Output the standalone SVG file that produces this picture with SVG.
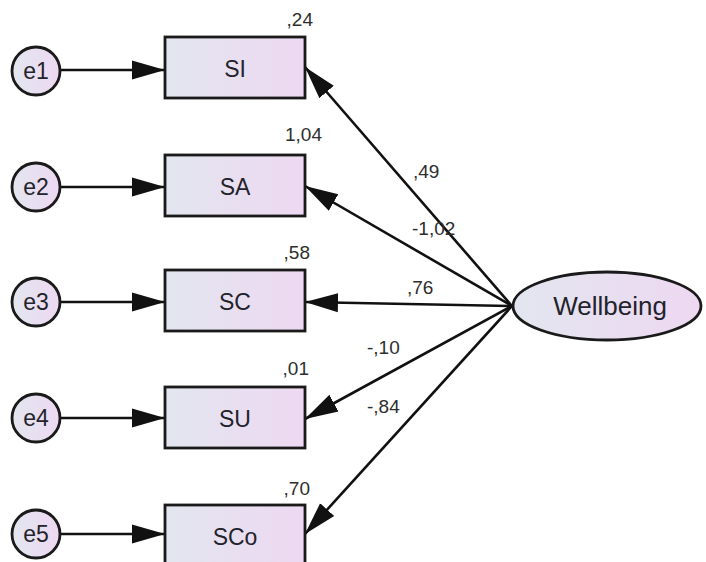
<svg xmlns="http://www.w3.org/2000/svg" width="706" height="562" viewBox="0 0 706 562">
<defs>
<linearGradient id="g" x1="0" y1="0" x2="1" y2="0">
<stop offset="0" stop-color="#e2e6ef"/>
<stop offset="1" stop-color="#eed8f2"/>
</linearGradient>
<marker id="ah" markerUnits="userSpaceOnUse" markerWidth="34" markerHeight="22" viewBox="0 0 34 22" refX="33" refY="11" orient="auto">
<path d="M0,1.5 L33,11 L0,20.5 z" fill="#111"/>
</marker>
<style>
.box{fill:url(#g);stroke:#1a1a1a;stroke-width:2.8}
.err{fill:url(#g);stroke:#1a1a1a;stroke-width:2.8}
.lbl{font-family:"Liberation Sans",Arial,sans-serif;fill:#23232b;text-anchor:middle}
.num{font-family:"Liberation Sans",Arial,sans-serif;fill:#2e2e2e;font-size:19px}
.c{stroke:#111;stroke-width:2.6;fill:none;marker-end:url(#ah)}
</style>
</defs>
<rect width="706" height="562" fill="#fff"/>
<g id="connectors">
<line class="c" x1="60" y1="70" x2="165" y2="70"/>
<line class="c" x1="60" y1="187" x2="165" y2="187"/>
<line class="c" x1="60" y1="302" x2="165" y2="302"/>
<line class="c" x1="60" y1="418" x2="165" y2="418"/>
<line class="c" x1="60" y1="534" x2="165" y2="534"/>
<line class="c" x1="512" y1="306" x2="305" y2="67"/>
<line class="c" x1="512" y1="306" x2="305" y2="186"/>
<line class="c" x1="512" y1="306" x2="305" y2="302"/>
<line class="c" x1="512" y1="306" x2="305" y2="419"/>
<line class="c" x1="512" y1="306" x2="305" y2="534"/>
</g>
<g id="e1"><circle class="err" cx="36" cy="71" r="24"/><text class="lbl" x="36" y="79" font-size="23">e1</text></g>
<g id="e2"><circle class="err" cx="36" cy="187" r="24"/><text class="lbl" x="36" y="195" font-size="23">e2</text></g>
<g id="e3"><circle class="err" cx="36" cy="302" r="24"/><text class="lbl" x="36" y="310" font-size="23">e3</text></g>
<g id="e4"><circle class="err" cx="36" cy="418" r="24"/><text class="lbl" x="36" y="426" font-size="23">e4</text></g>
<g id="e5"><circle class="err" cx="36" cy="534" r="24"/><text class="lbl" x="36" y="542" font-size="23">e5</text></g>
<g id="SI"><rect class="box" x="165" y="37" width="140" height="61"/><text class="lbl" x="235" y="77" font-size="23">SI</text><text class="num" x="313" y="26" text-anchor="end">,24</text></g>
<g id="SA"><rect class="box" x="165" y="155" width="140" height="61"/><text class="lbl" x="235" y="195" font-size="23">SA</text><text class="num" x="322" y="141" text-anchor="end">1,04</text></g>
<g id="SC"><rect class="box" x="165" y="270" width="140" height="61"/><text class="lbl" x="235" y="310" font-size="23">SC</text><text class="num" x="310" y="259" text-anchor="end">,58</text></g>
<g id="SU"><rect class="box" x="165" y="387" width="140" height="61"/><text class="lbl" x="235" y="427" font-size="23">SU</text><text class="num" x="309" y="375" text-anchor="end">,01</text></g>
<g id="SCo"><rect class="box" x="165" y="505" width="140" height="61"/><text class="lbl" x="235" y="545" font-size="23">SCo</text><text class="num" x="310" y="495" text-anchor="end">,70</text></g>
<g id="Wellbeing"><ellipse class="box" cx="607" cy="306" rx="94" ry="34"/><text class="lbl" x="610" y="315" font-size="26">Wellbeing</text></g>
<g id="path-labels">
<text class="num" x="413" y="178">,49</text>
<text class="num" x="412" y="235">-1,02</text>
<text class="num" x="407" y="294">,76</text>
<text class="num" x="367" y="354">-,10</text>
<text class="num" x="367" y="413">-,84</text>
</g>
</svg>
